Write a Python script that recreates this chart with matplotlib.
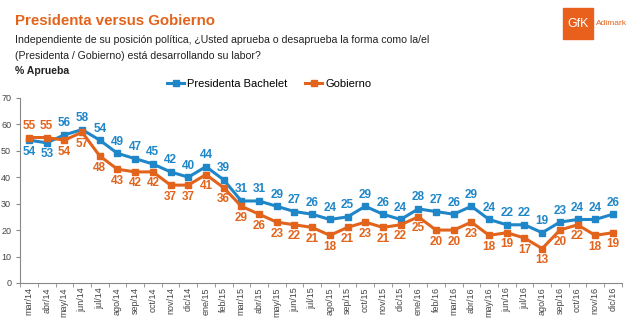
import matplotlib.pyplot as plt
import numpy as np
from matplotlib.patches import Rectangle

plt.rcParams["font.family"] = ["Liberation Sans", "DejaVu Sans"]

meses = ["mar/14", "abr/14", "may/14", "jun/14", "jul/14", "ago/14", "sep/14", "oct/14",
         "nov/14", "dic/14", "ene/15", "feb/15", "mar/15", "abr/15", "may/15", "jun/15",
         "jul/15", "ago/15", "sep/15", "oct/15", "nov/15", "dic/15", "ene/16", "feb/16",
         "mar/16", "abr/16", "may/16", "jun/16", "jul/16", "ago/16", "sep/16", "oct/16",
         "nov/16", "dic/16"]
bachelet = [54, 53, 56, 58, 54, 49, 47, 45, 42, 40, 44, 39, 31, 31, 29, 27, 26, 24, 25,
            29, 26, 24, 28, 27, 26, 29, 24, 22, 22, 19, 23, 24, 24, 26]
gobierno = [55, 55, 54, 57, 48, 43, 42, 42, 37, 37, 41, 36, 29, 26, 23, 22, 21, 18, 21,
            23, 21, 22, 25, 20, 20, 23, 18, 19, 17, 13, 20, 22, 18, 19]

azul = "#1f86c8"
naranja = "#e2641c"
gris = "#444444"

fig = plt.figure(figsize=(6.3, 3.23), dpi=100)
ax = fig.add_axes([0.032, 0.124, 0.955, 0.573])

x = np.arange(len(meses))
ax.plot(x, bachelet, color=azul, lw=2.2, marker="s", ms=4.5, label="Presidenta Bachelet", zorder=3)
ax.plot(x, gobierno, color=naranja, lw=2.2, marker="s", ms=4.5, label="Gobierno", zorder=3)

# etiquetas: Bachelet arriba, Gobierno abajo (salvo los dos primeros meses)
for i in range(len(x)):
    arriba_b = i not in (0, 1)
    ax.annotate(str(bachelet[i]), (x[i], bachelet[i]), xytext=(0, 4 if arriba_b else -4),
                textcoords="offset points", ha="center", va="bottom" if arriba_b else "top",
                color=azul, fontsize=8.5, fontweight="bold")
    ax.annotate(str(gobierno[i]), (x[i], gobierno[i]), xytext=(0, -4 if arriba_b else 4),
                textcoords="offset points", ha="center", va="top" if arriba_b else "bottom",
                color=naranja, fontsize=8.5, fontweight="bold")

ax.set_xlim(-0.5, len(meses) - 0.5)
ax.set_ylim(0, 70)
ax.set_yticks(range(0, 71, 10))
ax.set_xticks(x)
ax.set_xticklabels(meses, rotation=90, fontsize=6.5, color=gris)
ax.set_xticks(np.arange(-0.5, len(meses), 1), minor=True)
ax.tick_params(axis="x", which="major", length=0, pad=3)
ax.tick_params(axis="x", which="minor", length=3, color="#888888")
ax.tick_params(axis="y", labelsize=6.5, labelcolor=gris, length=3, color="#888888")
for s in ["top", "right"]:
    ax.spines[s].set_visible(False)
for s in ["left", "bottom"]:
    ax.spines[s].set_color("#888888")

ax.legend(loc="lower center", bbox_to_anchor=(0.414, 1.0), ncol=2, frameon=False,
          fontsize=8, handlelength=1.5, handletextpad=0.3, columnspacing=1.6,
          borderaxespad=0.4)

fig.text(0.024, 0.935, "Presidenta versus Gobierno", color=naranja, fontsize=10.8,
         fontweight="bold", va="center")
fig.text(0.024, 0.875, "Independiente de su posición política, ¿Usted aprueba o desaprueba la forma como la/el",
         fontsize=7.6, color="#222222", va="center")
fig.text(0.024, 0.828, "(Presidenta / Gobierno) está desarrollando su labor?",
         fontsize=7.6, color="#222222", va="center")
fig.text(0.024, 0.781, "% Aprueba", fontsize=7.6, fontweight="bold", color="#222222", va="center")

# logo GfK Adimark
fig.patches.append(Rectangle((0.893, 0.88), 0.048, 0.095, transform=fig.transFigure,
                             color="#e8601c", zorder=1))
fig.text(0.917, 0.927, "GfK", color="white", fontsize=9, ha="center", va="center")
fig.text(0.946, 0.927, "Adimark", color=naranja, fontsize=6, ha="left", va="center")

fig.savefig("out.png", dpi=100)
